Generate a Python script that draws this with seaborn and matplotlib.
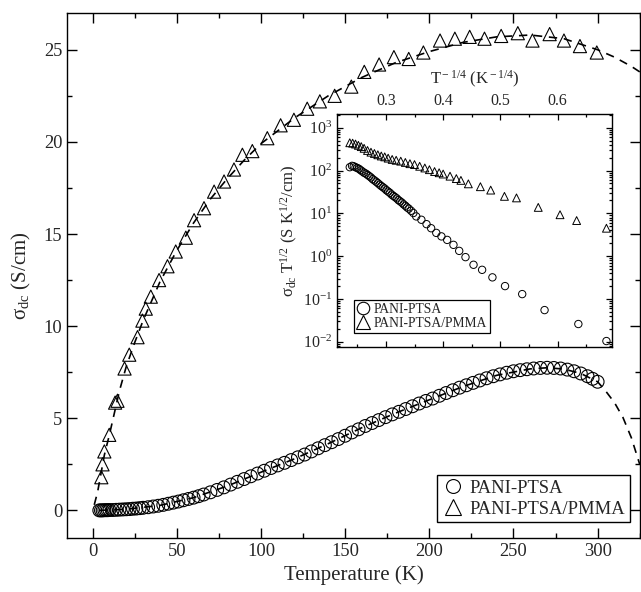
import numpy as np
import pandas as pd
import seaborn as sns
import matplotlib
matplotlib.use("Agg")
import matplotlib.pyplot as plt
from matplotlib.lines import Line2D
from matplotlib.ticker import MultipleLocator, LogLocator, NullFormatter

# ---- main panel data : sigma_dc vs T ----
temp_ptsa = [4, 5, 6, 7, 8, 9, 10, 12, 14, 16, 18, 20, 22, 24, 26, 28, 30, 33, 36, 39,
             42, 45, 48, 51, 54, 57, 60, 63, 66, 70, 74, 78, 82, 86, 90, 94, 98, 102,
             106, 110, 114, 118, 122, 126, 130, 134, 138, 142, 146, 150, 154, 158, 162,
             166, 170, 174, 178, 182, 186, 190, 194, 198, 202, 206, 210, 214, 218, 222,
             226, 230, 234, 238, 242, 246, 250, 254, 258, 262, 266, 270, 274, 278, 282,
             286, 290, 294, 297, 300]
sigma_ptsa = [0.00, 0.00, 0.00, 0.01, 0.01, 0.01, 0.02, 0.02, 0.03, 0.04, 0.05, 0.06,
              0.07, 0.09, 0.10, 0.12, 0.14, 0.17, 0.21, 0.25, 0.30, 0.36, 0.42, 0.48,
              0.55, 0.62, 0.69, 0.77, 0.86, 0.98, 1.11, 1.25, 1.40, 1.55, 1.70, 1.85,
              2.00, 2.15, 2.30, 2.44, 2.58, 2.73, 2.88, 3.03, 3.20, 3.37, 3.54, 3.70,
              3.87, 4.05, 4.23, 4.40, 4.58, 4.74, 4.90, 5.06, 5.21, 5.35, 5.50, 5.65,
              5.80, 5.94, 6.07, 6.22, 6.37, 6.52, 6.66, 6.79, 6.92, 7.05, 7.17, 7.28,
              7.38, 7.47, 7.55, 7.61, 7.66, 7.70, 7.73, 7.74, 7.73, 7.70, 7.64, 7.55,
              7.43, 7.28, 7.14, 6.98]

temp_pmma = [5.2, 5.9, 7.0, 9.9, 13.4, 14.8, 19.0, 21.8, 26.7, 29.6, 31.6, 34.6, 39.5,
             44.5, 49.4, 55.4, 60.3, 66.2, 72.2, 78.1, 84.0, 89.0, 94.9, 103.8, 111.7,
             119.6, 127.5, 135.0, 143.8, 153.7, 161.4, 170.2, 179.0, 187.8, 196.5,
             206.4, 215.2, 224.0, 232.8, 242.7, 252.6, 261.3, 271.5, 280.0, 289.5, 299.5]
sigma_pmma = [1.8, 2.5, 3.2, 4.1, 5.85, 5.95, 7.7, 8.45, 9.4, 10.3, 10.95, 11.6, 12.5,
              13.25, 14.05, 14.8, 15.75, 16.4, 17.3, 17.85, 18.5, 19.3, 19.5, 20.2, 20.9,
              21.2, 21.8, 22.2, 22.5, 23.0, 23.8, 24.2, 24.6, 24.5, 24.85, 25.5, 25.6,
              25.7, 25.6, 25.75, 25.9, 25.5, 25.85, 25.5, 25.2, 24.85]

# dashed fit curves
fit_T_ptsa = [4, 20, 40, 60, 80, 100, 120, 140, 160, 180, 200, 220, 240, 260, 270, 280,
              290, 300, 305, 310, 315, 320, 325]
fit_ptsa = [0.0, 0.06, 0.27, 0.69, 1.32, 2.07, 2.80, 3.62, 4.49, 5.28, 6.0, 6.72, 7.33,
            7.68, 7.74, 7.67, 7.43, 6.98, 6.45, 5.85, 5.05, 3.95, 2.5]
fit_T_pmma = [1.0, 3, 5, 7, 10, 13, 16, 20, 25, 30, 40, 50, 60, 70, 80, 90, 100, 120,
              140, 160, 180, 200, 220, 240, 260, 280, 300, 310, 320, 325]
fit_pmma = [0.3, 1.0, 2.0, 3.0, 4.1, 5.3, 6.5, 7.8, 9.1, 10.3, 12.4, 14.1, 15.6, 16.9,
            18.0, 19.0, 19.9, 21.3, 22.5, 23.5, 24.3, 24.9, 25.4, 25.7, 25.8, 25.6, 25.0,
            24.6, 24.1, 23.8]

# ---- inset data : sigma_dc T^1/2 vs T^-1/4 ----
inv_ptsa = [0.237, 0.241, 0.244, 0.247, 0.250, 0.253, 0.256, 0.259, 0.262, 0.265, 0.268,
            0.271, 0.274, 0.277, 0.280, 0.283, 0.286, 0.289, 0.292, 0.295, 0.298, 0.301,
            0.304, 0.307, 0.310, 0.313, 0.316, 0.319, 0.322, 0.325, 0.328, 0.331, 0.334,
            0.337, 0.340, 0.344, 0.348, 0.353, 0.362, 0.371, 0.379, 0.388, 0.397, 0.407,
            0.418, 0.428, 0.439, 0.453, 0.468, 0.486, 0.508, 0.538, 0.577, 0.636, 0.685]
red_ptsa = [120, 129, 126, 120, 115, 110, 102, 95.5, 89, 85, 79.4, 74, 69, 63, 59, 55,
            51, 47, 43.6, 40.7, 38, 34.7, 32.4, 30.2, 27.5, 25.7, 24, 22.4, 20.4, 19.1,
            17.8, 16.2, 15.1, 13.8, 12.9, 11.5, 10.2, 8.5, 7.1, 5.6, 4.5, 3.5, 2.9, 2.4,
            1.84, 1.33, 0.95, 0.63, 0.48, 0.32, 0.20, 0.13, 0.055, 0.026, 0.0104]
inv_pmma = [0.237, 0.242, 0.247, 0.252, 0.257, 0.262, 0.268, 0.274, 0.280, 0.286, 0.292,
            0.298, 0.304, 0.311, 0.318, 0.326, 0.334, 0.342, 0.350, 0.359, 0.368, 0.376,
            0.385, 0.393, 0.400, 0.412, 0.423, 0.431, 0.444, 0.465, 0.483, 0.507, 0.528,
            0.566, 0.604, 0.633, 0.685]
red_pmma = [447, 437, 417, 389, 363, 331, 295, 269, 251, 234, 219, 209, 195, 182, 174,
            166, 155, 145, 138, 126, 115, 105, 95, 89, 83, 74, 65, 59, 49, 42, 35, 25, 23,
            13.8, 9.3, 6.8, 4.5]

labels = ["PANI-PTSA", "PANI-PTSA/PMMA"]

sns.set_style("ticks")
plt.rcParams["font.family"] = ["Liberation Serif", "DejaVu Serif"]
plt.rcParams["mathtext.fontset"] = "custom"
plt.rcParams["mathtext.rm"] = "Liberation Serif"
plt.rcParams["mathtext.it"] = "Liberation Serif:italic"
plt.rcParams["axes.linewidth"] = 1.0
plt.rcParams["axes.edgecolor"] = "black"

fig = plt.figure(figsize=(6.41, 5.92), dpi=100)
ax = fig.add_axes([0.105, 0.0912, 0.893, 0.887])

dash = (0, (5, 4))
sns.lineplot(x=fit_T_pmma, y=fit_pmma, ax=ax, color="black", linestyle=dash,
             linewidth=1.2, estimator=None, sort=False)
sns.lineplot(x=fit_T_ptsa, y=fit_ptsa, ax=ax, color="black", linestyle=dash,
             linewidth=1.2, estimator=None, sort=False)
sns.scatterplot(x=temp_ptsa, y=sigma_ptsa, ax=ax, marker="o", s=85,
                facecolors="none", edgecolor="black", linewidth=0.8)
sns.scatterplot(x=temp_pmma, y=sigma_pmma, ax=ax, marker="^", s=90,
                facecolors="none", edgecolor="black", linewidth=0.8)

ax.set_xlim(-15, 325)
ax.set_ylim(-1.5, 27)
ax.xaxis.set_major_locator(MultipleLocator(50))
ax.xaxis.set_minor_locator(MultipleLocator(25))
ax.yaxis.set_major_locator(MultipleLocator(5))
ax.yaxis.set_minor_locator(MultipleLocator(2.5))
ax.tick_params(which="both", direction="in", top=True, right=True, labelsize=13.3,
               width=1.0, color="black")
ax.tick_params(which="major", length=7)
ax.tick_params(which="minor", length=3.5)
ax.set_xlabel("Temperature (K)", fontsize=15, labelpad=4)
ax.set_ylabel(r"σ$_{\rm dc}$ (S/cm)", fontsize=15, labelpad=8)

main_handles = [
    Line2D([], [], ls="none", marker="o", mfc="none", mec="black", ms=10, mew=0.8),
    Line2D([], [], ls="none", marker="^", mfc="none", mec="black", ms=11, mew=0.8),
]
leg = ax.legend(main_handles, labels, loc="lower right", bbox_to_anchor=(0.983, 0.03),
                fontsize=13.4, frameon=True, fancybox=False, framealpha=1,
                edgecolor="black", handletextpad=0.3, borderpad=0.25,
                labelspacing=0.2, handlelength=1.2, borderaxespad=0)
leg.get_frame().set_linewidth(1.0)

# ---- inset ----
ins = fig.add_axes([0.526, 0.414, 0.429, 0.394])
sns.scatterplot(x=inv_ptsa, y=red_ptsa, ax=ins, marker="o", s=28,
                facecolors="none", edgecolor="black", linewidth=0.7)
sns.scatterplot(x=inv_pmma, y=red_pmma, ax=ins, marker="^", s=32,
                facecolors="none", edgecolor="black", linewidth=0.7)
ins.set_yscale("log")
ins.set_xlim(0.215, 0.695)
ins.set_ylim(10 ** -2.12, 10 ** 3.33)
ins.xaxis.set_major_locator(MultipleLocator(0.1))
ins.xaxis.set_minor_locator(MultipleLocator(0.05))
ins.yaxis.set_major_locator(LogLocator(base=10, numticks=10))
ins.yaxis.set_minor_locator(LogLocator(base=10, subs=np.arange(2, 10), numticks=10))
ins.yaxis.set_minor_formatter(NullFormatter())
ins.xaxis.tick_top()
ins.xaxis.set_label_position("top")
ins.tick_params(which="both", direction="in", top=True, bottom=True, left=True,
                right=True, labelsize=11.5, width=0.9, color="black")
ins.tick_params(which="major", length=4.5)
ins.tick_params(which="minor", length=2.5)
ins.set_xlabel(r"T$^{\rm -1/4}$ (K$^{\rm -1/4}$)", fontsize=12, labelpad=6)
ins.set_ylabel(r"σ$_{\rm dc}$ T$^{\rm 1/2}$ (S K$^{\rm 1/2}$/cm)", fontsize=12,
               labelpad=2)

ins_handles = [
    Line2D([], [], ls="none", marker="o", mfc="none", mec="black", ms=9, mew=0.8),
    Line2D([], [], ls="none", marker="^", mfc="none", mec="black", ms=10, mew=0.8),
]
ileg = ins.legend(ins_handles, labels, loc="lower left", bbox_to_anchor=(0.06, 0.06),
                  fontsize=9.8, frameon=True, fancybox=False, framealpha=1,
                  edgecolor="black", handletextpad=0.3, borderpad=0.2,
                  labelspacing=0.1, handlelength=1.0, borderaxespad=0)
ileg.get_frame().set_linewidth(0.9)

fig.savefig("out.png", dpi=100)
